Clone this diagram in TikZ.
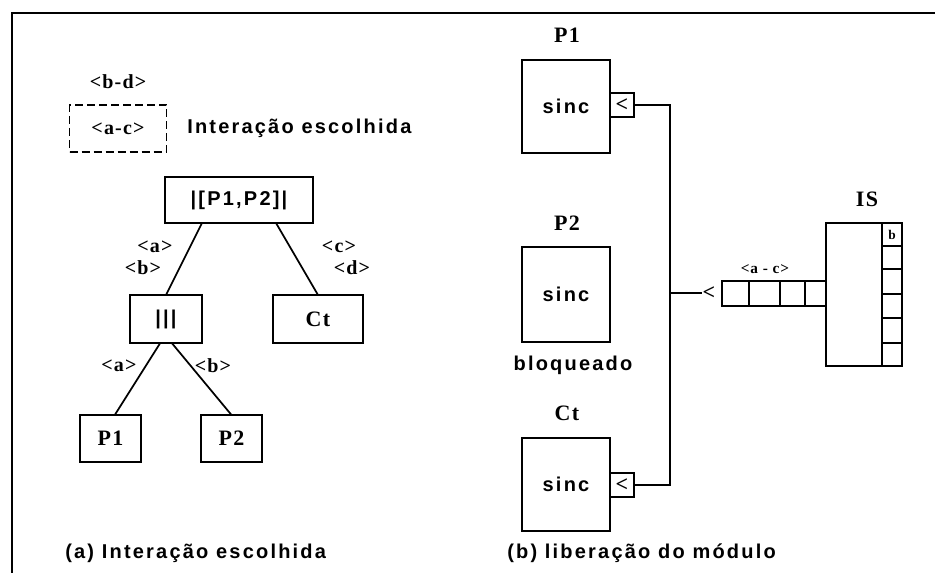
\documentclass[tikz,border=0pt]{standalone}
\usepackage{fontspec}
\setmainfont{Liberation Serif}
\newfontfamily\spaced{Liberation Sans}[LetterSpace=11]
\newfontfamily\labf{Liberation Serif}[LetterSpace=6]
\usetikzlibrary{calc}
\tikzset{
  frame/.style={line width=1.6pt},
  boxn/.style={draw, line width=1.3pt, inner sep=0pt, outer sep=0pt},
  link/.style={line width=1.3pt},
  sz/.style 2 args={minimum width={#1*0.75pt}, minimum height={#2*0.75pt}},
  txt/.style={font=\spaced\bfseries\fontsize{15}{17}\selectfont, inner sep=0pt},
  lbl/.style={font=\labf\bfseries\fontsize{15}{17}\selectfont, inner sep=0pt},
  big/.style={font=\labf\bfseries\fontsize{16.5}{18}\selectfont, inner sep=0pt},
  tiny/.style={font=\labf\bfseries\fontsize{10}{12}\selectfont, inner sep=0pt},
  dashbox/.style={draw, line width=1.2pt, dash pattern=on 6pt off 3pt, inner sep=0pt, outer sep=0pt}
}
\begin{document}
\begin{tikzpicture}[x=0.75pt,y=-0.75pt]
\useasboundingbox (0,0) rectangle (935,573);
\draw[frame] (12,573) -- (12,13) -- (935,13);

% ---------- panel (a) ----------
\node[lbl] (bd) at (118,82) {<b-d>};
\node[dashbox, lbl, sz={97}{47}] (ac) at (118,128.5) {<a-c>};
\node[txt, anchor=west] (ie) at (187,128) {Interação escolhida};

\node[boxn, txt, sz={148}{46}] (root) at (239,200) {|[P1,P2]|};
\node[boxn, txt, sz={72}{48}] (par) at (166,319) {|||};
\node[boxn, big, sz={90}{48}] (ct) at (318,319) {Ct};
\node[boxn, big, sz={61}{47}] (p1) at (110.5,438.5) {P1};
\node[boxn, big, sz={61}{47}] (p2) at (231.5,438.5) {P2};

\draw[link] ($(root.south west)!0.25!(root.south east)$) -- (par.north);
\draw[link] ($(root.south west)!0.75!(root.south east)$) -- (ct.north);
\draw[link] ($(par.south west)!0.42!(par.south east)$) -- ($(p1.north west)!0.57!(p1.north east)$);
\draw[link] ($(par.south west)!0.58!(par.south east)$) -- (p2.north);

\node[lbl] (la1) at (155,247) {<a>};
\node[lbl] (lb1) at (143,268) {<b>};
\node[lbl] (lc1) at (339,247) {<c>};
\node[lbl] (ld1) at (352,268) {<d>};
\node[lbl] (la2) at (119,366) {<a>};
\node[lbl] (lb2) at (213,366) {<b>};

\node[txt, anchor=west] (capa) at (65,553) {(a) Interação escolhida};

% ---------- panel (b) ----------
\node[big] (lp1) at (567,35) {P1};
\node[boxn, txt, sz={88}{93}] (s1) at (566,106.5) {sinc};
\node[boxn, big, sz={24}{24}] (g1) at (622,105) {<};

\node[big] (lp2) at (567,223) {P2};
\node[boxn, txt, sz={88}{95}] (s2) at (566,294.5) {sinc};
\node[txt] (blq) at (573,365) {bloqueado};

\node[big] (lct) at (567,413) {Ct};
\node[boxn, txt, sz={88}{93}] (s3) at (566,484.5) {sinc};
\node[boxn, big, sz={24}{24}] (g3) at (622,485) {<};

\coordinate (j1) at (670,105);
\coordinate (j2) at (670,485);
\coordinate (j3) at (670,293);
\draw[link] (g1.east) -- (j1) -- (j2) -- (g3.east);
\node[big] (lt) at (709,293) {<};
\draw[link] (j3) -- (lt.west);

% queue
\node[boxn, sz={27}{25}] (q1) at (735.5,293.5) {};
\node[boxn, sz={31}{25}] (q2) at (764.5,293.5) {};
\node[boxn, sz={25}{25}] (q3) at (792.5,293.5) {};
\node[boxn, sz={21}{25}] (q4) at (815.5,293.5) {};
\node[tiny, font=\labf\bfseries\fontsize{11.5}{13}\selectfont] (qa) at (765,269) {<a - c>};

% IS
\node[big] (lis) at (867,199) {IS};
\node[boxn, sz={56}{143}] (is) at (854,294.5) {};
\node[boxn, tiny, sz={20}{23}] (c1) at (892,234.5) {b};
\node[boxn, sz={20}{23}] (c2) at (892,257.5) {};
\node[boxn, sz={20}{25}] (c3) at (892,281.5) {};
\node[boxn, sz={20}{24}] (c4) at (892,306) {};
\node[boxn, sz={20}{25}] (c5) at (892,330.5) {};
\node[boxn, sz={20}{23}] (c6) at (892,354.5) {};

\node[txt, anchor=west] (capb) at (507,553) {(b) liberação do módulo};
\end{tikzpicture}
\end{document}
